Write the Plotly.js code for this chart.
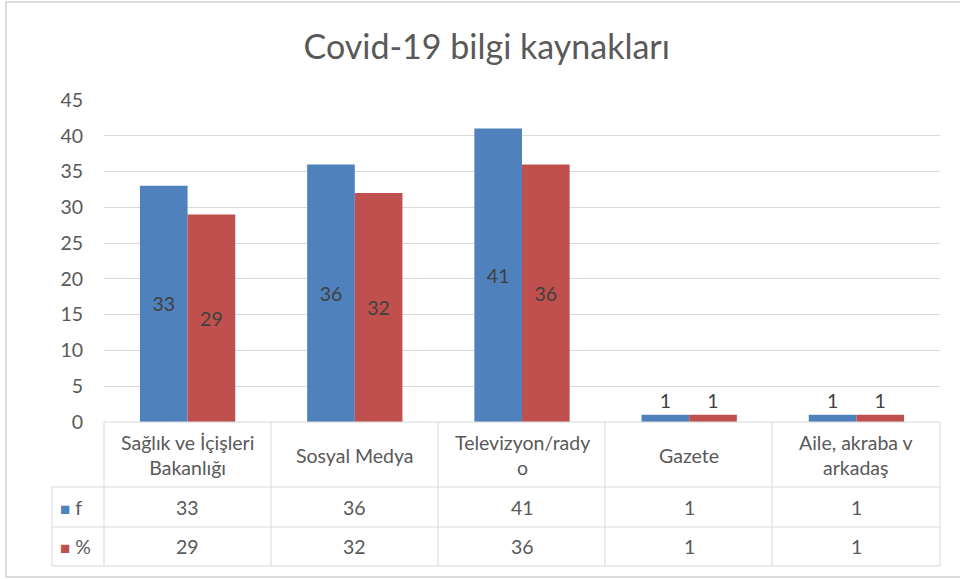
<!DOCTYPE html>
<html>
<head>
<meta charset="utf-8">
<script src="https://cdn.plot.ly/plotly-3.0.1.min.js"></script>
<style>html,body{margin:0;padding:0;background:#fff;}#chart{width:960px;height:579px;}</style>
</head>
<body>
<div id="chart"></div>
<script>
// ---- data ----
var categories = ['Sağlık ve İçişleri Bakanlığı', 'Sosyal Medya', 'Televizyon/radyo', 'Gazete', 'Aile, akraba v arkadaş'];
var categoryLabels = ['Sağlık ve İçişleri<br>Bakanlığı', 'Sosyal Medya', 'Televizyon/rady<br>o', 'Gazete', 'Aile, akraba v<br>arkadaş'];
var seriesNames = ['f', '%'];
var fValues = [33, 36, 41, 1, 1];
var pctValues = [29, 32, 36, 1, 1];
var yTicks = [0, 5, 10, 15, 20, 25, 30, 35, 40, 45];
var titleText = 'Covid-19 bilgi kaynakları';

// ---- style ----
var colors = ['#4F81BD', '#C0504D'];
var textColor = '#595959';
var labelColor = '#404040';
var gridColor = '#D9D9D9';
var FONT = 'Lato, "Open Sans", sans-serif';
var FS = 19.5;

function positions(vals) {
  return vals.map(function (v) { return v >= 5 ? 'inside' : 'outside'; });
}

var allSeries = [fValues, pctValues];
var traces = allSeries.map(function (vals, i) {
  return {
    type: 'bar',
    name: seriesNames[i],
    x: categories,
    y: vals,
    marker: { color: colors[i] },
    text: vals.map(String),
    textposition: positions(vals),
    insidetextanchor: 'middle',
    textangle: 0,
    insidetextfont: { family: FONT, size: FS, color: labelColor },
    outsidetextfont: { family: FONT, size: FS, color: labelColor },
    cliponaxis: false,
    hoverinfo: 'skip'
  };
});

// pixel -> paper helpers (plot area: x 104..940, y 100..422)
var L = 104, R = 940, T = 100, B = 422;
function px(X) { return (X - L) / (R - L); }
function py(Y) { return (B - Y) / (B - T); }

var shapes = [];
function line(x0, y0, x1, y1) {
  shapes.push({ type: 'line', xref: 'paper', yref: 'paper', x0: px(x0), y0: py(y0), x1: px(x1), y1: py(y1),
    line: { color: gridColor, width: 1 } });
}
// table horizontals
line(104, 422, 940, 422);
line(52, 487, 940, 487);
line(52, 527, 940, 527);
line(52, 566, 940, 566);
// table verticals
var colEdges = [104, 271, 438, 605, 772, 940];
colEdges.forEach(function (X) { line(X, 422, X, 566); });
line(52, 487, 52, 566);
// outer chart border
shapes.push({ type: 'rect', xref: 'paper', yref: 'paper', x0: px(6), y0: py(577), x1: px(970), y1: py(2),
  line: { color: '#D0D0D0', width: 1.5 }, fillcolor: 'rgba(0,0,0,0)' });

var annotations = [];
var cellFont = { family: FONT, size: FS, color: textColor };
categories.forEach(function (c, i) {
  annotations.push({ xref: 'x', yref: 'paper', x: c, y: py(455), text: categoryLabels[i], showarrow: false,
    font: cellFont, xanchor: 'center', yanchor: 'middle', align: 'center' });
  annotations.push({ xref: 'x', yref: 'paper', x: c, y: py(507), text: String(fValues[i]), showarrow: false,
    font: cellFont, xanchor: 'center', yanchor: 'middle' });
  annotations.push({ xref: 'x', yref: 'paper', x: c, y: py(546), text: String(pctValues[i]), showarrow: false,
    font: cellFont, xanchor: 'center', yanchor: 'middle' });
});
var rowY = [507, 546];
seriesNames.forEach(function (n, i) {
  annotations.push({ xref: 'paper', yref: 'paper', x: px(58), y: py(rowY[i]), xanchor: 'left', yanchor: 'middle',
    text: '<span style="color:' + colors[i] + ';font-size:17px">■</span> ' + n, showarrow: false, font: cellFont });
});

var layout = {
  width: 960, height: 579,
  margin: { l: L, r: 960 - R, t: T, b: 579 - B },
  paper_bgcolor: '#ffffff', plot_bgcolor: '#ffffff',
  showlegend: false,
  barmode: 'group',
  bargap: 0.43,
  bargroupgap: 0,
  font: { family: FONT, color: textColor },
  title: { text: titleText, font: { family: FONT, size: 34, color: textColor },
    xref: 'container', x: 0.507, xanchor: 'center', yref: 'container', y: 1 - 47 / 579, yanchor: 'middle' },
  xaxis: { showticklabels: false, showgrid: false, zeroline: false, showline: false, ticks: '' },
  yaxis: { range: [0, 45], tickvals: yTicks, showgrid: true, gridcolor: gridColor, gridwidth: 1,
    zeroline: false, showline: false, ticks: '', ticklabelstandoff: 20,
    tickfont: { family: FONT, size: FS, color: textColor } },
  shapes: shapes,
  annotations: annotations
};

Plotly.newPlot('chart', traces, layout, { displayModeBar: false, staticPlot: true });
</script>
</body>
</html>
